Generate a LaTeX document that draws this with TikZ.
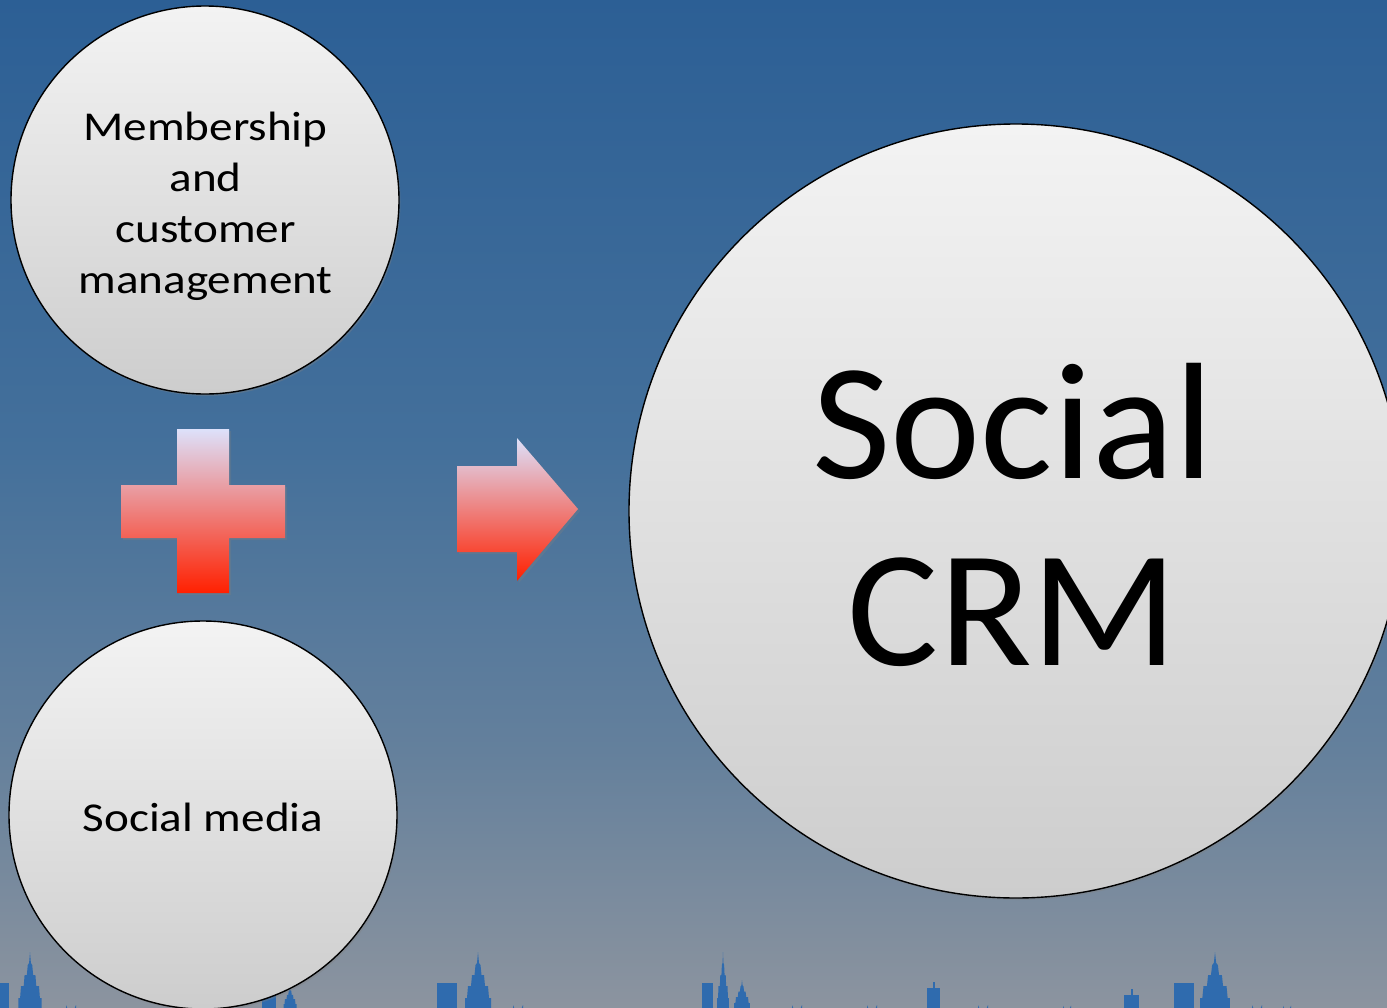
\documentclass[tikz,border=0pt]{standalone}
\usepackage{fontspec}
\setmainfont{Carlito}
\newfontfamily\widefont[FakeStretch=1.15]{Carlito}
\newfontfamily\bigfont[FakeStretch=1.03]{Carlito}
\usetikzlibrary{shadows}

\definecolor{skytop}{HTML}{2C5F95}
\definecolor{skymid}{HTML}{44709B}
\definecolor{skylow}{HTML}{64809C}
\definecolor{skybot}{HTML}{8C949F}
\definecolor{town}{HTML}{2F6BAE}
\definecolor{ballhi}{HTML}{F3F3F3}
\definecolor{balllo}{HTML}{CDCDCD}
\definecolor{signhi}{HTML}{DDE1FB}
\definecolor{signmid}{HTML}{EC8C93}
\definecolor{signlo}{HTML}{FF2000}

\tikzset{
  ball/.style={circle, draw=black, line width=1.4pt, inner sep=0pt,
    top color=ballhi, bottom color=balllo,
    drop shadow={opacity=0.35, shadow xshift=1.5pt, shadow yshift=-2pt}},
  sign/.style={top color=signhi, middle color=signmid, bottom color=signlo,
    drop shadow={opacity=0.3, shadow xshift=2pt, shadow yshift=-2pt}},
  caption/.style={anchor=base, inner sep=0pt, font=\widefont\fontsize{41}{51}\selectfont},
  bigcaption/.style={anchor=base, inner sep=0pt, font=\bigfont\fontsize{166}{187}\selectfont},
  building/.style={fill=town},
  spire/.pic={
    \fill[town] (-13,0) -- (-13,-10) -- (-11,-10) -- (-10,-22) -- (-7,-22)
      -- (-6,-33) -- (-3.5,-33) -- (-2.5,-43) -- (-1,-45) -- (0,-56)
      -- (1,-45) -- (2.5,-43) -- (3.5,-33) -- (6,-33) -- (7,-22) -- (10,-22)
      -- (11,-10) -- (13,-10) -- (13,0) -- cycle;
  },
  dome/.pic={
    \fill[town] (-5,0) -- (-5,-3) arc[start angle=180, end angle=0, radius=5] -- (5,0) -- cycle;
  }
}

\begin{document}
\begin{tikzpicture}[x=1pt, y=-1pt]
\useasboundingbox (0,0) rectangle (1387,1007);
\begin{scope}
\clip (0,0) rectangle (1387,1007);

% evening sky, darker at the top
\shade[top color=skytop, bottom color=skymid] (0,-1) rectangle (1387,451);
\shade[top color=skymid, bottom color=skylow] (0,450) rectangle (1387,751);
\shade[top color=skylow, bottom color=skybot] (0,750) rectangle (1387,1008);

% skyline along the bottom edge
\fill[building] (0,983) rectangle (9,1008);
\pic[xscale=0.9] at (30,1008) {spire};
\pic at (71,1008) {dome};
\fill[building] (262,995) rectangle (276,1008);
\pic[xscale=0.5, yscale=0.4] at (290,1008) {spire};
\fill[building] (437,983) rectangle (457,1008);
\pic at (478,1008) {spire};
\pic at (518,1008) {dome};
\fill[building] (702,983) rectangle (713,1008);
\pic[xscale=0.45] at (723,1008) {spire};
\pic[xscale=0.6, yscale=0.5] at (742,1008) {spire};
\pic at (797,1008) {dome};
\pic at (872,1008) {dome};
\fill[building] (927,988) rectangle (940,1008);
\fill[building] (932.5,982) rectangle (934.5,988);
\pic at (983,1008) {dome};
\pic[scale=0.8] at (1067,1008) {dome};
\fill[building] (1124,995) rectangle (1139,1008);
\fill[building] (1130.5,989) rectangle (1132.5,995);
\fill[building] (1174,983) rectangle (1194,1008);
\pic[xscale=1.15] at (1215,1008) {spire};
\pic at (1257,1008) {dome};
\pic[scale=0.8] at (1287,1008) {dome};

% the three circles
\node[ball, minimum size=388pt] (member) at (205,200) {};
\node[ball, minimum size=388pt] (media) at (203,815) {};
\node[ball, minimum size=774pt] (crm) at (1016,511) {};

\node[caption] (membertext) at (205.5,140)
  {\begin{tabular}[t]{@{}c@{}}Membership\\and\\customer\\management\end{tabular}};
\node[caption] (mediatext) at (203,831) {Social media};
\node[bigcaption] (crmtext) at (1013,478)
  {\begin{tabular}[t]{@{}c@{}}Social\\CRM\end{tabular}};

% plus sign between the two small circles
\path[sign] (177,429) -- (229,429) -- (229,485) -- (285,485) -- (285,538)
  -- (229,538) -- (229,593) -- (177,593) -- (177,538) -- (121,538)
  -- (121,485) -- (177,485) -- cycle;

% block arrow pointing to the large circle
\path[sign] (457,466) -- (517,466) -- (517,438) -- (578,509) -- (517,581)
  -- (517,552) -- (457,552) -- cycle;
\end{scope}
\end{tikzpicture}
\end{document}
